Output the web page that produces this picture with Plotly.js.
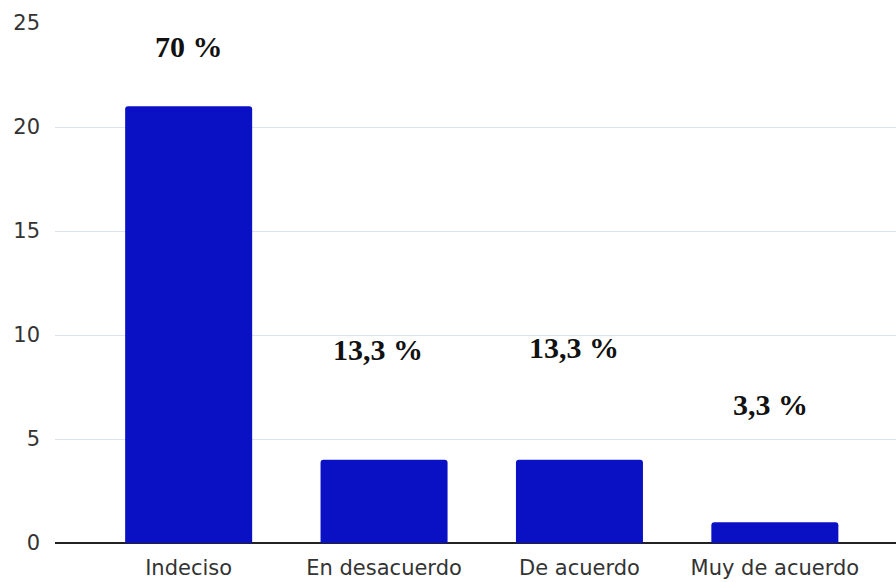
<!DOCTYPE html>
<html>
<head>
<meta charset="utf-8">
<script src="https://cdn.plot.ly/plotly-3.0.1.min.js"></script>
<style>html,body{margin:0;padding:0;background:#fff;}#chart{width:896px;height:582px;}</style>
</head>
<body>
<div id="chart"></div>
<script>
const categories = ["Indeciso", "En desacuerdo", "De acuerdo", "Muy de acuerdo"];
const counts = [21, 4, 4, 1];
const pctLabels = ["70 %", "13,3 %", "13,3 %", "3,3 %"];
const yTicks = [0, 5, 10, 15, 20, 25];

// label placement (layout only)
const labelY = [23.85, 9.3, 9.4, 6.65];
const labelShift = [0, -6, -5, -4];

const trace = {
  type: "bar",
  x: categories,
  y: counts,
  marker: { color: "#0a10c4", cornerradius: 3, line: { width: 0 } },
  hoverinfo: "none"
};

const annotations = pctLabels.map((t, i) => ({
  x: categories[i], y: labelY[i], xref: "x", yref: "y",
  text: "<b>" + t + "</b>", showarrow: false, xshift: labelShift[i],
  font: { family: "Liberation Serif, Times New Roman, serif", size: 30, color: "#111" }
}));

const layout = {
  width: 896, height: 582,
  margin: { l: 55, r: 0, t: 23, b: 39 },
  paper_bgcolor: "#fff", plot_bgcolor: "#fff",
  showlegend: false,
  bargap: 0.35,
  font: { family: "DejaVu Sans, Verdana, sans-serif", color: "#3a3a3a" },
  xaxis: {
    type: "category",
    range: [-0.684, 3.62],
    showgrid: false, zeroline: false, showline: false,
    ticks: "", tickfont: { size: 21, color: "#333" },
    ticklabelstandoff: 10
  },
  yaxis: {
    range: [0, 25], tickvals: yTicks, ticktext: yTicks.map(String),
    showgrid: true, gridcolor: "#dce3ee", gridwidth: 1,
    zeroline: true, zerolinecolor: "#222", zerolinewidth: 2,
    showline: false, ticks: "",
    tickfont: { size: 21, color: "#333" },
    ticklabelstandoff: 14
  },
  annotations: annotations
};

Plotly.newPlot("chart", [trace], layout, { staticPlot: true, displayModeBar: false });
</script>
</body>
</html>
